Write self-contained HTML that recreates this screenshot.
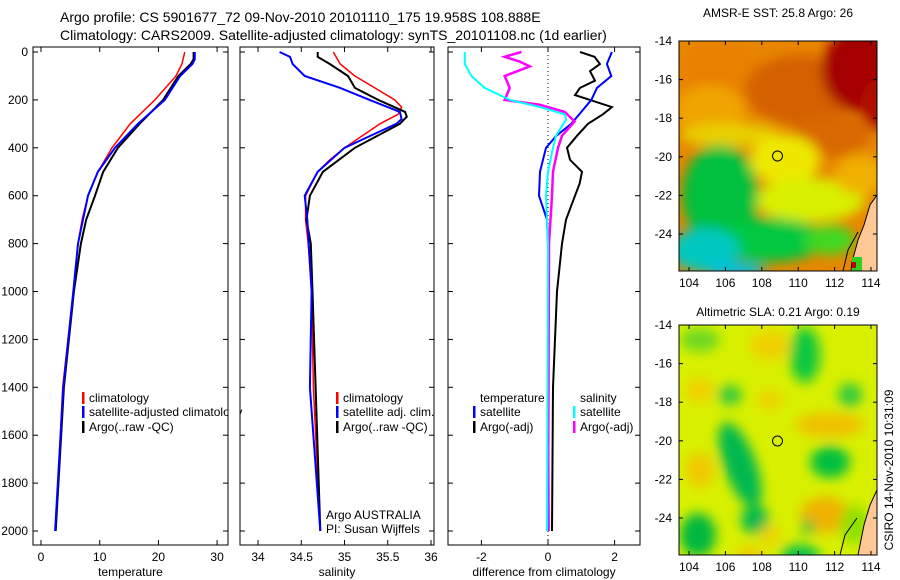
<!DOCTYPE html>
<html><head><meta charset="utf-8"><style>
html,body{margin:0;padding:0;background:#fff}
svg{display:block;font-family:"Liberation Sans",sans-serif}
</style></head><body>
<svg id="fig" width="900" height="580" viewBox="0 0 900 580" xmlns="http://www.w3.org/2000/svg">
<defs>
<filter id="blur1" x="-20%" y="-20%" width="140%" height="140%"><feGaussianBlur stdDeviation="6"/></filter>
<filter id="blur2" x="-20%" y="-20%" width="140%" height="140%"><feGaussianBlur stdDeviation="6"/></filter>
<clipPath id="clipM1"><rect x="679" y="41" width="198" height="230"/></clipPath>
<clipPath id="clipM2"><rect x="679" y="325" width="198" height="230"/></clipPath>
</defs>
<text x="60" y="22" font-size="14">Argo profile: CS 5901677_72 09-Nov-2010 20101110_175 19.958S 108.888E</text>
<text x="60" y="40" font-size="14">Climatology: CARS2009. Satellite-adjusted climatology: synTS_20101108.nc (1d earlier)</text>

<!-- SST map -->
<g clip-path="url(#clipM1)">
<rect x="679" y="41" width="198" height="230" fill="#e88600"/>
<g filter="url(#blur1)">
<ellipse cx="720" cy="75" rx="40" ry="30" fill="#e88000"/>
<ellipse cx="710" cy="110" rx="35" ry="25" fill="#f0a400"/>
<ellipse cx="800" cy="90" rx="55" ry="35" fill="#d46000"/>
<ellipse cx="860" cy="70" rx="38" ry="42" fill="#a40000"/>
<ellipse cx="880" cy="105" rx="20" ry="25" fill="#b01000"/>
<ellipse cx="830" cy="135" rx="40" ry="22" fill="#d86800"/>
<ellipse cx="730" cy="135" rx="50" ry="12" fill="#e8d000"/>
<ellipse cx="785" cy="160" rx="35" ry="25" fill="#eee800"/>
<ellipse cx="810" cy="200" rx="55" ry="22" fill="#d8f000"/>
<ellipse cx="860" cy="175" rx="25" ry="20" fill="#f0b000"/>
<ellipse cx="720" cy="195" rx="38" ry="50" fill="#00c03c"/>
<ellipse cx="770" cy="240" rx="55" ry="22" fill="#00c840"/>
<ellipse cx="830" cy="240" rx="25" ry="15" fill="#40d820"/>
<ellipse cx="705" cy="250" rx="35" ry="22" fill="#00c8c0"/>
<ellipse cx="735" cy="270" rx="30" ry="8" fill="#00c0e0"/>
</g>
<path d="M877 195 L870 205 L864 225 L858 240 L852 262 L851 271 L877 271 Z" fill="#fdc896" stroke="#000" stroke-width="1"/>
<path d="M843 271 L848 250 L858 232" fill="none" stroke="#000" stroke-width="1"/>
<rect x="852" y="257" width="10" height="14" fill="#30d020"/>
<rect x="852" y="262" width="4" height="6" fill="#c00000"/>
</g>
<rect x="679" y="41" width="198" height="230" fill="none" stroke="#000"/>
<circle cx="777.5" cy="156" r="5" fill="none" stroke="#000"/>
<text x="778" y="17" font-size="12" text-anchor="middle">AMSR-E SST: 25.8 Argo: 26</text>

<!-- SLA map -->
<g clip-path="url(#clipM2)">
<rect x="679" y="325" width="198" height="230" fill="#d8f000"/>
<g filter="url(#blur2)">
<ellipse cx="805" cy="355" rx="15" ry="28" fill="#10c840"/>
<ellipse cx="700" cy="340" rx="20" ry="12" fill="#70d820"/>
<ellipse cx="770" cy="345" rx="20" ry="15" fill="#f0d000"/>
<ellipse cx="730" cy="395" rx="12" ry="10" fill="#30c840"/>
<ellipse cx="850" cy="395" rx="12" ry="12" fill="#30c840"/>
<ellipse cx="700" cy="390" rx="15" ry="12" fill="#f0d000"/>
<ellipse cx="770" cy="400" rx="12" ry="10" fill="#f0d000"/>
<ellipse cx="830" cy="425" rx="35" ry="12" fill="#f0c000"/>
<ellipse cx="740" cy="465" rx="16" ry="45" fill="#00b850" transform="rotate(-20 740 465)"/>
<ellipse cx="755" cy="520" rx="14" ry="14" fill="#00b850"/>
<ellipse cx="830" cy="462" rx="20" ry="16" fill="#00c040"/>
<ellipse cx="825" cy="515" rx="25" ry="18" fill="#f0b000"/>
<ellipse cx="800" cy="555" rx="20" ry="10" fill="#00c050"/>
<ellipse cx="698" cy="535" rx="18" ry="22" fill="#00b840"/>
<ellipse cx="700" cy="470" rx="14" ry="18" fill="#f0c800"/>
<ellipse cx="770" cy="535" rx="10" ry="10" fill="#f0d000"/>
<ellipse cx="808" cy="527" rx="6" ry="8" fill="#10c040"/>
<ellipse cx="750" cy="555" rx="14" ry="8" fill="#f0c800"/>
<ellipse cx="855" cy="525" rx="15" ry="20" fill="#90e000"/>
</g>
<path d="M877 490 L870 505 L864 525 L860 545 L858 555 L877 555 Z" fill="#fdc896" stroke="#000" stroke-width="1"/>
<path d="M840 555 L845 535 L857 518" fill="none" stroke="#000" stroke-width="1"/>
</g>
<rect x="679" y="325" width="198" height="230" fill="none" stroke="#000"/>
<circle cx="777.5" cy="441" r="5" fill="none" stroke="#000"/>
<text x="778" y="316" font-size="12" text-anchor="middle">Altimetric SLA: 0.21 Argo: 0.19</text>
<text transform="translate(893,470) rotate(-90)" font-size="12" text-anchor="middle">CSIRO 14-Nov-2010 10:31:09</text>
</svg>
<script>
// ---- data ----
var depthTicks = [0,200,400,600,800,1000,1200,1400,1600,1800,2000];
var tempTicks = [0,10,20,30];
var salTicks = [34,34.5,35,35.5,36];
var diffTicks = [-2,0,2];
var lonTicks = [104,106,108,110,112,114];
var latTicks = [-14,-16,-18,-20,-22,-24];

var tClimD = [0,50,100,200,300,400,500,600,700,800,1000,1400,2000];
var tClim  = [24.5,24.0,23.0,19.4,15.2,12.1,9.7,8.0,7.0,6.3,5.5,3.7,2.5];
var tSatD  = [0,30,50,100,200,300,400,500,600,800,1000,1400,2000];
var tSat   = [26.2,26.2,25.8,23.7,21.1,16.5,12.6,9.7,8.0,6.3,5.5,3.8,2.4];
var tArgoD = [0,30,50,100,200,300,400,500,600,700,800,1000,1400,2000];
var tArgo  = [26.0,26.0,25.5,23.4,20.8,16.8,13.1,10.6,9.2,7.7,6.8,5.6,3.9,2.5];

var sClimD = [0,50,100,150,200,230,260,300,400,450,500,600,700,800,1000,1400,2000];
var sClim  = [34.87,34.95,35.12,35.35,35.58,35.66,35.62,35.41,35.0,34.83,34.69,34.55,34.55,34.58,34.62,34.64,34.72];
var sSatD  = [0,20,50,100,150,200,250,280,300,400,500,600,700,1000,1400,2000];
var sSat   = [34.25,34.37,34.40,34.54,34.95,35.29,35.64,35.66,35.60,35.0,34.69,34.54,34.57,34.62,34.60,34.72];
var sArgoD = [0,20,50,100,150,200,250,270,300,400,500,600,700,800,1000,2000];
var sArgo  = [34.69,34.69,34.83,35.04,35.12,35.39,35.70,35.72,35.64,35.12,34.75,34.60,34.56,34.61,34.63,34.72];

var dTSatD  = [0,50,100,150,200,250,300,350,400,500,600,700,800,2000];
var dTSat   = [1.92,1.77,1.9,1.47,1.3,1.0,0.7,0.25,-0.06,-0.24,-0.27,-0.03,0.0,0.02];
var dTArgoD = [0,20,50,80,120,150,180,200,230,260,300,350,400,450,500,550,600,700,800,1000,1400,2000];
var dTArgo  = [0.96,1.4,1.56,1.26,1.41,0.96,0.81,1.26,1.92,1.65,1.2,0.87,0.57,0.66,1.02,0.95,0.81,0.54,0.42,0.27,0.15,0.12];
var dSSatD  = [0,50,100,150,200,230,260,280,350,400,500,600,800,2000];
var dSSat   = [-2.5,-2.5,-2.3,-1.9,-1.14,-0.24,0.5,0.55,0.24,0.15,0.0,-0.06,0.0,-0.03];
var dSArgoD = [0,20,40,60,100,150,200,220,250,290,350,400,500,600,800,2000];
var dSArgo  = [-0.8,-1.3,-0.85,-0.55,-1.3,-1.15,-1.3,-0.25,0.5,0.8,0.42,0.3,0.15,0.12,0.03,0.0];

// ---- helpers ----
var svg = document.getElementById('fig');
var NS = 'http://www.w3.org/2000/svg';
function mk(tag, attrs, parent){
  var e = document.createElementNS(NS, tag);
  for (var k in attrs) e.setAttribute(k, attrs[k]);
  (parent || svg).appendChild(e);
  return e;
}
function yD(d){ return 52 + d*0.2395; }
var panels = [
  {x0:33, x1:228, v0:0, px:5.87, vx:41, ticks:tempTicks, title:'temperature', name:'temperature'},
  {x0:240, x1:434, v0:34, px:86.5, vx:258, ticks:salTicks, title:'salinity', name:'salinity'},
  {x0:448, x1:640, v0:0, px:33.3, vx:548, ticks:diffTicks, title:'difference from climatology', name:'difference'}
];
function xOf(p, v){ return p.vx + (v - p.v0)*p.px; }
function line(p, ds, vs, color, w, nm){
  var pts = [];
  for (var i=0;i<ds.length;i++) pts.push(xOf(p,vs[i]).toFixed(1)+','+yD(ds[i]).toFixed(1));
  var el = mk('polyline', {points:pts.join(' '), fill:'none', stroke:color, 'stroke-width':w});
  
  
}

panels.forEach(function(p, pi){
  var g = mk('g', {});
  
  
  var box = mk('rect', {x:p.x0, y:47, width:p.x1-p.x0, height:498, fill:'#fff', stroke:'#000'}, g);
  
  
  depthTicks.forEach(function(d){
    var y = yD(d);
    mk('line', {x1:p.x0, x2:p.x0+5, y1:y, y2:y, stroke:'#000'}, g);
    mk('line', {x1:p.x1, x2:p.x1-5, y1:y, y2:y, stroke:'#000'}, g);
    if (pi===0){
      var t = mk('text', {x:28, y:y+4, 'font-size':12, 'text-anchor':'end'}, g);
      t.textContent = d;
      
      
    }
  });
  p.ticks.forEach(function(v){
    var x = xOf(p, v);
    mk('line', {x1:x, x2:x, y1:545, y2:540, stroke:'#000'}, g);
    mk('line', {x1:x, x2:x, y1:47, y2:52, stroke:'#000'}, g);
    var t = mk('text', {x:x, y:561, 'font-size':12, 'text-anchor':'middle'}, g);
    t.textContent = v;
    
    
  });
  var tt = mk('text', {x:(p.x0+p.x1)/2, y:576, 'font-size':12, 'text-anchor':'middle'}, g);
  tt.textContent = p.title;
  
  

  if (pi===0){
    line(p, tClimD, tClim, '#f00', 1.5, 'temperature-climatology-line');
    line(p, tArgoD, tArgo, '#000', 2, 'temperature-argo-line');
    line(p, tSatD, tSat, '#00f', 2, 'temperature-satellite-line');
  } else if (pi===1){
    line(p, sClimD, sClim, '#f00', 1.5, 'salinity-climatology-line');
    line(p, sArgoD, sArgo, '#000', 2, 'salinity-argo-line');
    line(p, sSatD, sSat, '#00f', 2, 'salinity-satellite-line');
  } else {
    var zl = mk('line', {x1:548, x2:548, y1:47, y2:545, stroke:'#000', 'stroke-dasharray':'1,3'}, g);
    
    
    line(p, dTArgoD, dTArgo, '#000', 2, 'diff-temperature-argo-line');
    line(p, dTSatD, dTSat, '#00f', 2, 'diff-temperature-satellite-line');
    line(p, dSArgoD, dSArgo, '#f0f', 2.5, 'diff-salinity-argo-line');
    line(p, dSSatD, dSSat, '#0ff', 2, 'diff-salinity-satellite-line');
  }
});

function legend(x, y, color, label){
  if (color){
    var b = mk('rect', {x:x, y:y-10, width:2.5, height:12, fill:color});
    
    
  }
  var t = mk('text', {x:x+7, y:y, 'font-size':12});
  t.textContent = label;
  
  
}
legend(82, 402, '#f00', 'climatology');
legend(82, 416, '#00f', 'satellite-adjusted climatology');
legend(82, 431, '#000', 'Argo(..raw -QC)');
var cov = mk('rect', {x:228.5, y:380, width:11, height:60, fill:'#fff'});


mk('line', {x1:228, x2:228, y1:380, y2:440, stroke:'#000'});
mk('line', {x1:240, x2:240, y1:380, y2:440, stroke:'#000'});
legend(336, 402, '#f00', 'climatology');
legend(336, 416, '#00f', 'satellite adj. clim.');
legend(336, 431, '#000', 'Argo(..raw -QC)');
legend(473, 402, null, 'temperature');
legend(473, 416, '#00f', 'satellite');
legend(473, 431, '#000', 'Argo(-adj)');
legend(573, 402, null, 'salinity');
legend(573, 416, '#0ff', 'satellite');
legend(573, 431, '#f0f', 'Argo(-adj)');
var a1 = mk('text', {x:326, y:519, 'font-size':12});
a1.textContent = 'Argo AUSTRALIA';


var a2 = mk('text', {x:326, y:533, 'font-size':12});
a2.textContent = 'PI: Susan Wijffels';



// map axes
[{top:41, bot:271},{top:325, bot:555}].forEach(function(m){
  latTicks.forEach(function(lat){
    var y = m.top + (-14 - lat)*19.3;
    mk('line', {x1:679, x2:683, y1:y, y2:y, stroke:'#000'});
    mk('line', {x1:877, x2:873, y1:y, y2:y, stroke:'#000'});
    var t = mk('text', {x:672, y:y+4, 'font-size':12, 'text-anchor':'end'});
    t.textContent = lat;
    
    
  });
  lonTicks.forEach(function(lon){
    var x = 689 + (lon-104)*18.2;
    mk('line', {x1:x, x2:x, y1:m.bot, y2:m.bot-4, stroke:'#000'});
    mk('line', {x1:x, x2:x, y1:m.top, y2:m.top+4, stroke:'#000'});
    var t = mk('text', {x:x, y:m.bot+16, 'font-size':12, 'text-anchor':'middle'});
    t.textContent = lon;
    
    
  });
});
</script>
</body></html>
